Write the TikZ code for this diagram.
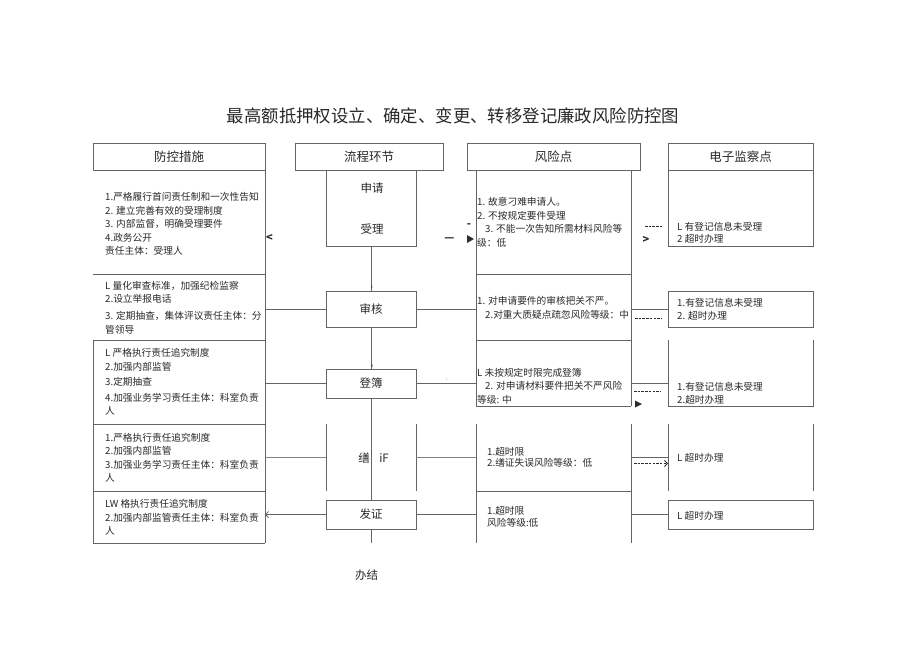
\documentclass[tikz,border=0pt]{standalone}
\usepackage{fontspec}
\setmainfont{Noto Sans CJK SC}
\usetikzlibrary{calc,arrows.meta}
\definecolor{linegray}{RGB}{100,100,100}
\definecolor{linepurple}{RGB}{150,115,160}
\definecolor{dashgray}{RGB}{45,45,45}
\definecolor{textgray}{RGB}{40,40,40}
\tikzset{
  ln/.style={draw=linegray, line width=0.6pt},
  lnp/.style={draw=linepurple, line width=0.6pt},
  dsh/.style={draw=dashgray, line width=0.8pt, dash pattern=on 2.5pt off 1.2pt},
  tip/.style={-{Straight Barb[length=3pt,width=6pt,line width=0.8pt]}},
  cell/.style={rectangle, inner sep=0pt, outer sep=0pt, anchor=north west},
  box/.style={cell, ln},
  hdr/.style={rectangle, draw=linegray, line width=0.6pt, inner sep=0pt, minimum height=27pt, font=\fontsize{12.5}{15}\selectfont},
  txt/.style={anchor=west, align=left, inner sep=0pt, font=\fontsize{9.7}{13.5}\selectfont},
  stage/.style={font=\fontsize{11.5}{14}\selectfont},
  tiny/.style={inner sep=0pt, font=\fontsize{4}{4}\selectfont},
  sym/.style={inner sep=0pt, font=\bfseries\fontsize{11}{12}\selectfont},
}
\begin{document}
\begin{tikzpicture}[x=1pt,y=-1pt,text=textgray]
\useasboundingbox (0,0) rectangle (920,651);
% titre
\node[font=\fontsize{17.4}{20}\selectfont] (title) at (453,116) {最高额抵押权设立、确定、变更、转移登记廉政风险防控图};

% en-tetes des colonnes
\node[hdr, minimum width=172pt] (hA) at (179,156.5) {防控措施};
\node[hdr, minimum width=148pt] (hB) at (369,156.5) {流程环节};
\node[hdr, minimum width=173pt] (hC) at (553.5,156.5) {风险点};
\node[hdr, minimum width=145pt] (hD) at (740.5,156.5) {电子监察点};

% cellules : mesures
\node[cell, minimum width=172pt, minimum height=104pt] (L1) at (93,170) {};
\node[cell, minimum width=172pt, minimum height=66pt] (L2) at (93,274) {};
\node[cell, minimum width=172pt, minimum height=84pt] (L3) at (93,340) {};
\node[cell, minimum width=172pt, minimum height=67pt] (L4) at (93,424) {};
\node[cell, minimum width=172pt, minimum height=52pt] (L5) at (93,491) {};
% cellules : etapes
\node[cell, minimum width=90pt, minimum height=76pt] (P1) at (326,170) {};
\node[box, stage, minimum width=90pt, minimum height=36pt] (P2) at (326,291) {审核};
\node[box, stage, minimum width=90pt, minimum height=29pt] (P3) at (326,369) {登簿};
\node[cell, minimum width=90pt, minimum height=67pt] (P4) at (326,424) {};
\node[box, stage, minimum width=90pt, minimum height=29pt] (P5) at (326,500) {发证};
% cellules : risques
\node[cell, minimum width=155pt, minimum height=104pt] (R1) at (476,170) {};
\node[cell, minimum width=155pt, minimum height=66pt] (R2) at (476,274) {};
\node[cell, minimum width=155pt, minimum height=66pt] (R3) at (476,340) {};
\node[cell, minimum width=155pt, minimum height=67pt] (R4) at (476,424) {};
\node[cell, minimum width=155pt, minimum height=52pt] (R5) at (476,491) {};
% cellules : surveillance
\node[cell, minimum width=145pt, minimum height=76pt] (M1) at (668,170) {};
\node[box, minimum width=145pt, minimum height=36pt] (M2) at (668,291) {};
\node[cell, minimum width=145pt, minimum height=66pt] (M3) at (668,340) {};
\node[cell, minimum width=145pt, minimum height=67pt] (M4) at (668,424) {};
\node[box, minimum width=145pt, minimum height=29pt] (M5) at (668,500) {};

% bords
\draw[ln] (L1.north east) -- (L5.south east);
\draw[ln] (L3.north west) -- (L5.south west);
\foreach \c in {L1,L2,L3,L4,L5} \draw[ln] (\c.south west) -- (\c.south east);
\draw[ln] (P1.north west) -- (P1.south west) -- (P1.south east) -- (P1.north east);
\draw[ln] (P4.north west) -- (P4.south west);
\draw[ln] (P4.north east) -- (P4.south east);
\draw[ln] (R1.north west) -- (R3.south west);
\draw[ln] (R1.north east) -- (R3.south east);
\draw[ln] (R4.north west) -- (R5.south west);
\draw[ln] (R4.north east) -- (R5.south east);
\foreach \c in {R1,R2,R3,R4} \draw[ln] (\c.south west) -- (\c.south east);
\foreach \c in {M1,M3} \draw[ln] (\c.north west) -- (\c.south west) -- (\c.south east) -- (\c.north east);
\draw[ln] (M4.north west) -- (M4.south west);
\draw[ln] (M4.north east) -- (M4.south east);

% flux central
\draw[ln] (P1.south) -- (P2.north);
\draw[ln] (P2.south) -- (P3.north);
\draw[ln] (P3.south) -- (P5.north);
\draw[ln] (P5.south) -- (P5.south |- L5.south);

% liaisons horizontales
\draw[ln] (P2.west) -- (P2.west -| L2.east);
\draw[ln] (P2.east) -- (P2.east -| R2.west);
\draw[ln] (R2.east |- M2.west) -- (M2.west);
\draw[dsh] ($(R2.east |- M2.west)+(4,9)$) -- ($(M2.west)+(-6,9)$);
\draw[ln] (P3.west) -- (P3.west -| L3.east);
\draw[ln] (P3.east) -- (P3.east -| R3.west);
\draw[ln] (R3.east |- P3.east) -- (M3.west |- P3.east);
\draw[dsh] ($(R3.east |- P3.east)+(3,8)$) -- ($(M3.west |- P3.east)+(-7,8)$);
\fill[dashgray] (635,400.5) -- (642,404) -- (635,407.5) -- cycle;
\draw[lnp] (P4.west) -- (P4.west -| L4.east);
\draw[lnp] (P4.east) -- (P4.east -| R4.west);
\draw[ln] (R4.east |- P4.east) -- (M4.west |- P4.east);
\draw[dsh,tip] ($(R4.east |- P4.east)+(3,6)$) -- ($(M4.west |- P4.east)+(0,6)$);
\draw[ln,tip] (P5.west) -- (P5.west -| L5.east);
\draw[ln] (P5.east) -- (P5.east -| R5.west);
\draw[ln] (R5.east |- M5.west) -- (M5.west);

% rangee accepter : fragments
\node[sym] (m1) at (269.5,238) {<};
\node[sym] (m2) at (449.5,240) {—};
\node[sym] (m3) at (469,226) {-};
\fill[dashgray] (467,235) -- (474,239) -- (467,243) -- cycle;
\coordinate (d1a) at (645,226);
\coordinate (d1b) at (663,226);
\draw[dsh] (d1a) -- (d1b);
\node[sym] (m4) at (646,240) {>};
\node[tiny] (n1) at (372,287) {1};
\node[tiny] (n3) at (372,366) {3};
\node[tiny] (n4) at (447,380) {,};

% etapes
\node[stage] (tP1a) at (372,188) {申请};
\node[stage] (tP1b) at (372,229) {受理};
\node[stage] (tP4a) at (364,458) {缮};
\node[stage] (tP4b) at (384,458) {iF};
\node[stage] (tEnd) at (366.5,575) {办结};

% mesures
\node[txt] (tL1) at (105,224) {1.严格履行首问责任制和一次性告知\\2. 建立完善有效的受理制度\\3. 内部监督，明确受理要件\\4.政务公开\\责任主体：受理人};
\node[txt] (tL2) at (105,307.5) {L 量化审查标准，加强纪检监察\\2.设立举报电话\\[3.5pt]3. 定期抽查，集体评议责任主体：分\\管领导};
\node[txt] (tL3) at (105,382) {L 严格执行责任追究制度\\2.加强内部监管\\[2pt]3.定期抽查\\[2pt]4.加强业务学习责任主体：科室负责\\人};
\node[txt] (tL4) at (105,458) {1.严格执行责任追究制度\\2.加强内部监管\\3.加强业务学习责任主体：科室负责\\人};
\node[txt] (tL5) at (105,517.5) {LW 格执行责任追究制度\\2.加强内部监管责任主体：科室负责\\人};

% risques
\node[txt] (tR1) at (477,222.5) {1. 故意刁难申请人。\\2. 不按规定要件受理\\\hspace*{8pt}3. 不能一次告知所需材料风险等\\级：低};
\node[txt] (tR2) at (477,308) {1. 对申请要件的审核把关不严。\\\hspace*{8pt}2.对重大质疑点疏忽风险等级：中};
\node[txt] (tR3) at (477,386) {L 未按规定时限完成登簿\\\hspace*{8pt}2. 对申请材料要件把关不严风险\\等级: 中};
\node[txt, font=\fontsize{9.7}{11.5}\selectfont] (tR4) at (487,457.5) {1.超时限\\2.缮证失误风险等级：低};
\node[txt, font=\fontsize{9.7}{12.5}\selectfont] (tR5) at (487,517) {1.超时限\\风险等级:低};

% surveillance
\node[txt, font=\fontsize{9.7}{12.5}\selectfont] (tM1) at (677,233) {L 有登记信息未受理\\2 超时办理};
\node[txt, font=\fontsize{9.7}{12.5}\selectfont] (tM2) at (677,309.5) {1.有登记信息未受理\\2. 超时办理};
\node[txt, font=\fontsize{9.7}{12.5}\selectfont] (tM3) at (677,393.5) {1.有登记信息未受理\\2.超时办理};
\node[txt] (tM4) at (677,458) {L 超时办理};
\node[txt] (tM5) at (677,516) {L 超时办理};
\end{tikzpicture}
\end{document}
